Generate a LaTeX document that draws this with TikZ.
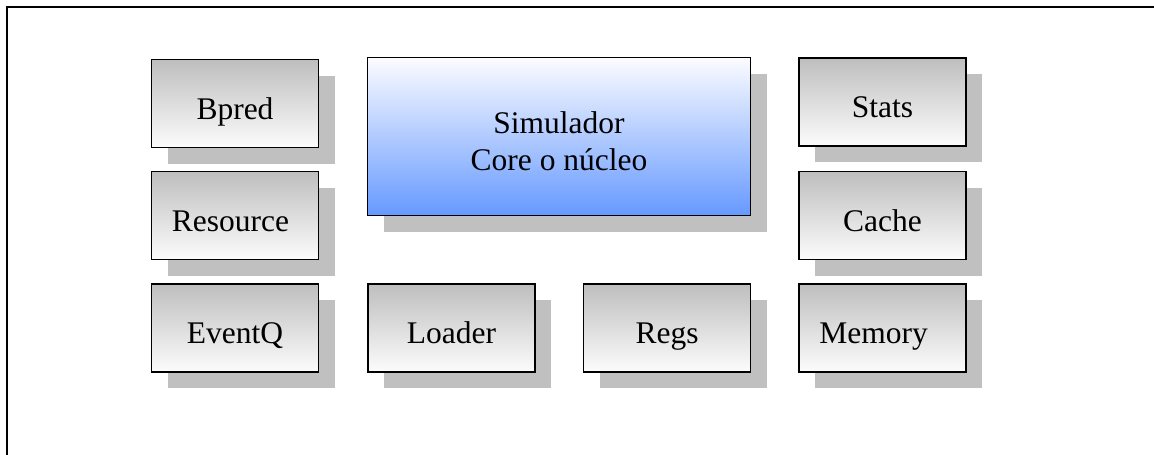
\documentclass[tikz,border=0pt]{standalone}
\usepackage{fontspec}
\setmainfont{Liberation Serif}
\usetikzlibrary{shadows}
\definecolor{shadowgray}{RGB}{192,192,192}
\definecolor{boxtop}{RGB}{190,190,190}
\definecolor{boxbottom}{RGB}{252,252,252}
\definecolor{coretop}{RGB}{252,252,255}
\definecolor{corebottom}{RGB}{102,153,255}
\tikzset{
  module/.style={draw=black, line width=1.8pt, rectangle, inner sep=0pt,
    minimum width=167pt, minimum height=88pt,
    top color=boxtop, bottom color=boxbottom,
    font=\fontsize{31.5}{37.3}\selectfont,
    text height=31.6pt, text depth=0pt,
    drop shadow={shadow xshift=16pt, shadow yshift=-16pt, fill=shadowgray, opacity=1}},
  coremodule/.style={module, minimum width=383pt, minimum height=158pt,
    top color=coretop, bottom color=corebottom,
    text height=0pt, text depth=6.4pt},
  frameline/.style={draw=black, line width=2pt}
}
\begin{document}
\begin{tikzpicture}[x=1pt, y=-1pt]
  \useasboundingbox (0,0) rectangle (1154,455);
  % outer frame (only top and left edges fall inside the page)
  \draw[frameline] (1154,6.7) -- (6.7,6.7) -- (6.7,455);

  % left column
  \node[module] (bpred)    at (235,103.5) {Bpred};
  \node[module] (resource) at (235,215.5) {Resource\kern9pt};
  \node[module] (eventq)   at (235,328)   {EventQ};

  % simulator core
  \node[coremodule] (core) at (559,136.5)
    {\begin{tabular}[t]{@{}c@{}}Simulador\\Core o núcleo\end{tabular}};

  % bottom row
  \node[module] (loader) at (451.5,328) {Loader};
  \node[module] (regs)   at (667,328)   {Regs};

  % right column
  \node[module] (stats)  at (882.5,102)   {Stats};
  \node[module] (cache)  at (882.5,215.5) {Cache};
  \node[module] (memory) at (882.5,328)   {Memory\kern18pt};
\end{tikzpicture}
\end{document}
